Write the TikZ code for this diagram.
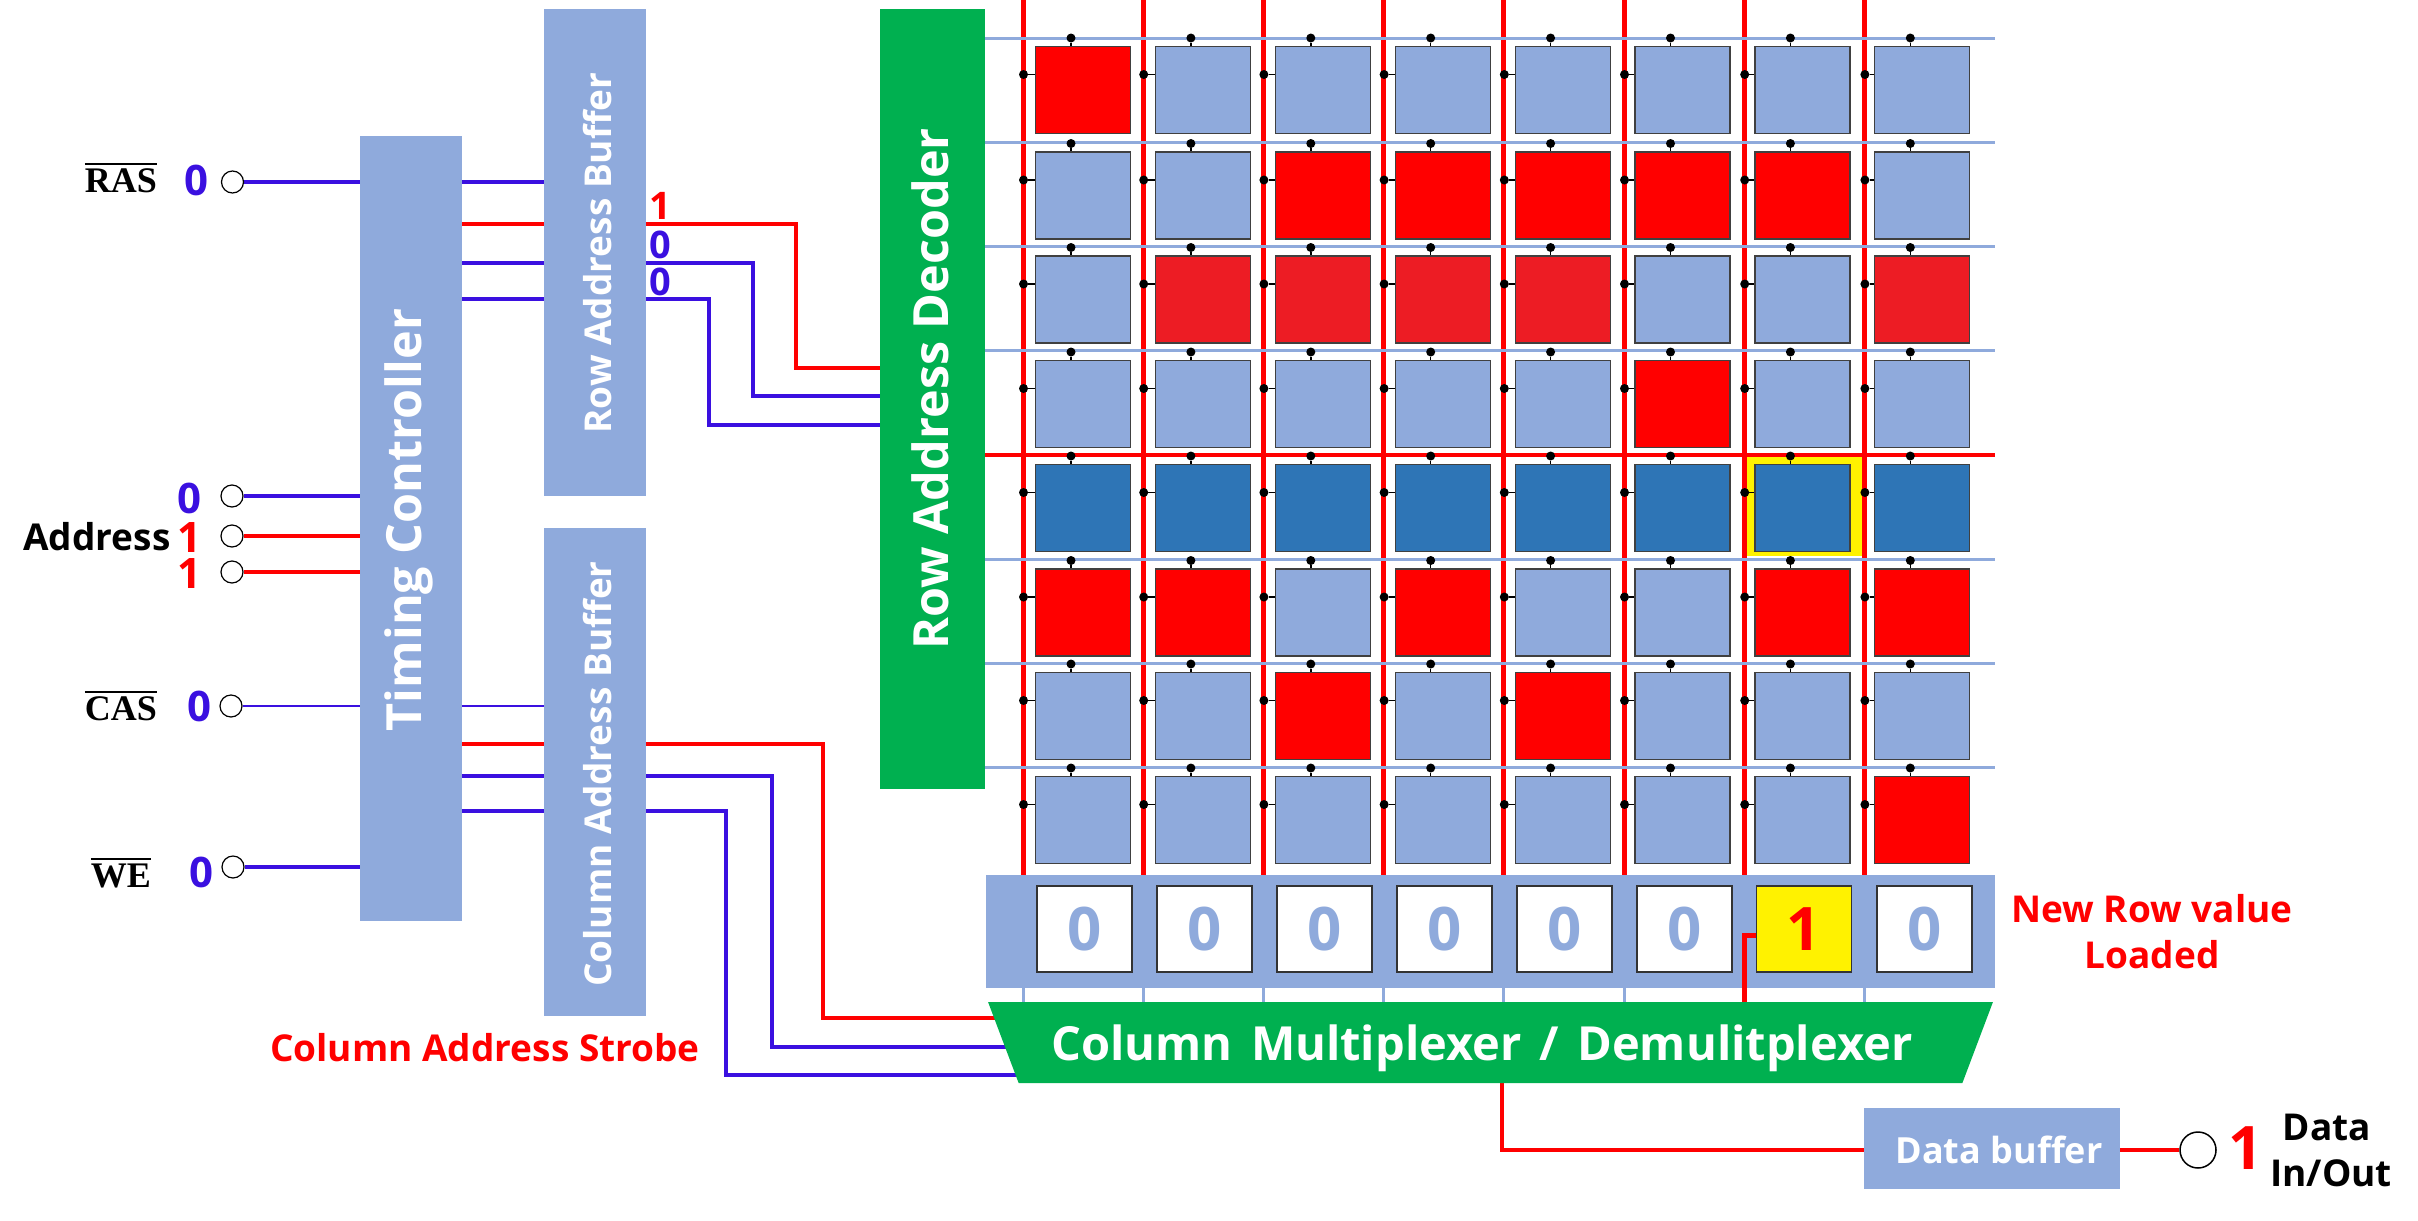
\documentclass[tikz,border=0pt]{standalone}
\usepackage{fontspec}
\setmainfont{Open Sans}
\newfontfamily\capfont{Liberation Serif}
\usetikzlibrary{shapes.geometric, positioning, backgrounds}

\definecolor{cellb}{HTML}{8FAADC}
\definecolor{cellr}{HTML}{FF0000}
\definecolor{celle}{HTML}{ED1C24}
\definecolor{cellk}{HTML}{2E75B6}
\definecolor{busgreen}{HTML}{00B050}
\definecolor{wireblue}{HTML}{3A10E0}

\newcommand{\barred}[1]{\vbox{\hrule height 1.8pt \kern 3.5pt \hbox{#1}}}

\begin{document}
\begin{tikzpicture}[
    x=1pt, y=-1pt,
    block/.style={rectangle, fill=cellb, inner sep=0pt},
    decoder/.style={rectangle, fill=busgreen, inner sep=0pt},
    bigtitle/.style={text=white, font=\fontsize{48.5}{52}\selectfont\bfseries},
    smalltitle/.style={text=white, font=\fontsize{37}{40}\selectfont\bfseries},
    cell/.style={rectangle, draw=black!75, line width=1.2pt, minimum width=95pt, minimum height=87pt, inner sep=0pt},
    bitbox/.style={rectangle, draw=black!80, line width=1.2pt, fill=white, minimum width=95pt, minimum height=86pt, inner sep=0pt, font=\fontsize{60}{62}\selectfont\bfseries},
    tap/.style={circle, fill=black, minimum size=9pt, inner sep=0pt},
    pin/.style={circle, draw, line width=1.2pt, fill=white, minimum size=22pt, inner sep=0pt},
    redwire/.style={draw=red, line width=3.5pt},
    bluewire/.style={draw=wireblue, line width=3.5pt},
    sigtext/.style={font=\fontsize{37}{46}\selectfont\bfseries},
    redtext/.style={sigtext, text=red, align=center},
    digit/.style={inner sep=0pt, text height=30pt, text depth=0pt, font=\fontsize{42}{44}\selectfont\bfseries},
    strobe/.style={font=\fontsize{36}{40}\capfont\bfseries, inner sep=0pt}
]
    \useasboundingbox (0,0) rectangle (2418,1221);

    % Blocks on the left
    \node[block, minimum width=102pt, minimum height=785pt] (timing) at (411,528.5) {};
    \node[bigtitle, rotate=90] (timing_text) at (409,520) {Timing Controller};
    \node[block, minimum width=102pt, minimum height=487pt] (rowbuf) at (595,252.5) {};
    \node[smalltitle, rotate=90] (rowbuf_text) at (598,253) {Row Address Buffer};
    \node[block, minimum width=102pt, minimum height=488pt] (colbuf) at (595,772) {};
    \node[smalltitle, rotate=90] (colbuf_text) at (598,774) {Column Address Buffer};
    \node[decoder, minimum width=105pt, minimum height=780pt] (rowdec) at (932.5,399) {};
    \node[bigtitle, rotate=90] (rowdec_text) at (930,389) {Row Address Decoder};

    % Sense row and multiplexer
    \node[block, minimum width=1009pt, minimum height=113pt] (sense) at (1490.5,931.5) {};
    \node[trapezium, shape border rotate=180, trapezium angle=58, fill=busgreen, inner sep=0pt,
          minimum width=1012pt, minimum height=81pt, trapezium stretches=true] (colmux) at (1490.5,1042.5)
          {\hspace*{926pt}\rule[-17pt]{0pt}{48pt}};
    \node[text=white, font=\fontsize{47}{50}\selectfont\bfseries] (colmux_text) at (1482,1048)
          {Column\hspace{6pt} Multiplexer\hspace{6pt} /\hspace{6pt} Demulitplexer};
    \node[block, minimum width=256pt, minimum height=81pt] (databuf) at (1992,1148.5) {};
    \node[text=white, font=\fontsize{36}{40}\selectfont\bfseries] (databuf_text) at (1999,1150) {Data buffer};

    % Cell array
    \foreach \rx/\cy/\rowcells in {
        0/90/{cellr,cellb,cellb,cellb,cellb,cellb,cellb,cellb},
        1/195.5/{cellb,cellb,cellr,cellr,cellr,cellr,cellr,cellb},
        2/299.5/{cellb,celle,celle,celle,celle,cellb,cellb,celle},
        3/404/{cellb,cellb,cellb,cellb,cellb,cellr,cellb,cellb},
        4/508/{cellk,cellk,cellk,cellk,cellk,cellk,cellk,cellk},
        5/612.5/{cellr,cellr,cellb,cellr,cellb,cellb,cellr,cellr},
        6/716/{cellb,cellb,cellr,cellb,cellr,cellb,cellb,cellb},
        7/820/{cellb,cellb,cellb,cellb,cellb,cellb,cellb,cellr}} {
        \foreach \fillc [count=\cx from 0] in \rowcells {
            \node[cell, fill=\fillc] (cell-\rx-\cx) at ({1083+119.9*\cx},\cy) {};
            \node[tap] (wl-\rx-\cx) at ({1071+119.9*\cx},\cy-52) {};
            \node[tap] (bl-\rx-\cx) at ({1023.5+120.2*\cx},\cy-15.5) {};
            \draw[line width=1.5pt] (wl-\rx-\cx) -- (wl-\rx-\cx |- cell-\rx-\cx.north);
            \draw[line width=1.5pt] (bl-\rx-\cx) -- (bl-\rx-\cx -| cell-\rx-\cx.west);
        }
    }

    % Row buffer values
    \foreach \cx/\bitval/\bitcol in {0/0/cellb,1/0/cellb,2/0/cellb,3/0/cellb,4/0/cellb,5/0/cellb,7/0/cellb} {
        \node[bitbox, text=\bitcol] (bit\cx) at ({1084.5+120*\cx},929) {\bitval};
    }
    \node[bitbox, fill=yellow, text=red] (bit6) at (1804,929) {1};

    % Input pins
    \node[pin] (ras_pin) at (232.5,182) {};
    \node[pin] (a0_pin) at (232,496) {};
    \node[pin] (a1_pin) at (232,536) {};
    \node[pin] (a2_pin) at (232,572) {};
    \node[pin] (cas_pin) at (231,706) {};
    \node[pin] (we_pin) at (233,867) {};
    \node[circle, draw, line width=1.5pt, fill=white, minimum size=36pt, inner sep=0pt] (data_pin) at (2198,1150) {};

    % Pin labels
    \node[strobe] (ras_label) at (121,178) {\barred{RAS}};
    \node[strobe] (cas_label) at (121,706) {\barred{CAS}};
    \node[strobe] (we_label) at (121,873) {\barred{WE}};
    \node[digit, text=wireblue] (ras_bit) at (196,180) {0};
    \node[digit, text=wireblue] (a0_bit) at (189,498) {0};
    \node[digit, text=red] (a1_bit) at (189,537) {1};
    \node[digit, text=red] (a2_bit) at (189,573) {1};
    \node[digit, text=wireblue] (cas_bit) at (199,706) {0};
    \node[digit, text=wireblue] (we_bit) at (201,872) {0};
    \node[sigtext, inner sep=0pt] (address_label) at (97,537) {Address};

    % Row buffer output values
    \node[digit, text=red, font=\fontsize{38}{40}\selectfont\bfseries] (row1_bit) at (660,204) {1};
    \node[digit, text=wireblue, font=\fontsize{38}{40}\selectfont\bfseries] (row2_bit) at (660,243) {0};
    \node[digit, text=wireblue, font=\fontsize{38}{40}\selectfont\bfseries] (row3_bit) at (660,280) {0};

    % Other texts
    \node[redtext] (strobe_text) at (485,1048) {Column Address Strobe};
    \node[redtext] (loaded_text) at (2152,932) {New Row value\\Loaded};
    \node[digit, text=red, text height=43pt, font=\fontsize{60}{62}\selectfont\bfseries] (data_bit) at (2246,1148) {1};
    \node[sigtext, align=center] (data_text) at (2327,1150) {Data\\\hspace*{8pt}In/Out};

    % Named points for the wires
    \coordinate (rowa) at (700,224);
    \coordinate (rowb) at (700,263);
    \coordinate (rowc) at (700,299);
    \coordinate (rowa_end) at (796,368);
    \coordinate (rowb_end) at (753,396);
    \coordinate (rowc_end) at (709,425);
    \coordinate (cola) at (700,744);
    \coordinate (colb) at (700,776);
    \coordinate (colc) at (700,811);
    \coordinate (cola_end) at (823,1018);
    \coordinate (colb_end) at (772,1047);
    \coordinate (colc_end) at (726,1075);
    \coordinate (mux_out) at (1502,1150);
    \coordinate (load_turn) at (1745,935);

    \begin{pgfonlayer}{background}
        % Selected cell
        \node[fill=yellow, minimum width=115pt, minimum height=100pt, inner sep=0pt] (selected) at (1804.5,506) {};

        % Bit lines
        \foreach \cx in {0,...,7} {
            \coordinate (col\cx) at ({1023+120.2*\cx},0);
            \draw[red, line width=5pt] (col\cx) -- (col\cx |- sense.north);
        }

        % Word lines
        \foreach \rx in {0,1,2,3,5,6,7} {
            \coordinate (row\rx) at (1500,{38+104.2*\rx});
            \draw[cellb, line width=3pt] (rowdec.east |- row\rx) -- (sense.east |- row\rx);
        }
        \coordinate (row4) at (1500,455);
        \draw[red, line width=3.5pt] (rowdec.east |- row4) -- (sense.east |- row4);

        % Links from sense row to multiplexer
        \foreach \cx in {0,1,2,3,4,5,7} {
            \draw[cellb, line width=3pt] (col\cx |- sense.south) -- (col\cx |- colmux.north);
        }

        % Left wires
        \draw[bluewire] (ras_pin) -- (timing.west |- ras_pin);
        \draw[bluewire] (a0_pin) -- (timing.west |- a0_pin);
        \draw[redwire] (a1_pin) -- (timing.west |- a1_pin);
        \draw[redwire] (a2_pin) -- (timing.west |- a2_pin);
        \draw[bluewire, line width=2.8pt] (cas_pin) -- (timing.west |- cas_pin);
        \draw[bluewire] (we_pin) -- (timing.west |- we_pin);

        % Timing to buffers
        \draw[bluewire] (timing.east |- ras_pin) -- (rowbuf.west |- ras_pin);
        \draw[redwire] (timing.east |- rowa) -- (rowbuf.west |- rowa);
        \draw[bluewire] (timing.east |- rowb) -- (rowbuf.west |- rowb);
        \draw[bluewire] (timing.east |- rowc) -- (rowbuf.west |- rowc);
        \draw[bluewire, line width=2.8pt] (timing.east |- cas_pin) -- (colbuf.west |- cas_pin);
        \draw[redwire] (timing.east |- cola) -- (colbuf.west |- cola);
        \draw[bluewire] (timing.east |- colb) -- (colbuf.west |- colb);
        \draw[bluewire] (timing.east |- colc) -- (colbuf.west |- colc);

        % Buffers to decoders
        \draw[redwire] (rowbuf.east |- rowa) -| (rowa_end) -- (rowdec.west |- rowa_end);
        \draw[bluewire] (rowbuf.east |- rowb) -| (rowb_end) -- (rowdec.west |- rowb_end);
        \draw[bluewire] (rowbuf.east |- rowc) -| (rowc_end) -- (rowdec.west |- rowc_end);
        \draw[redwire] (colbuf.east |- cola) -| (cola_end) -- (colmux.center |- cola_end);
        \draw[bluewire] (colbuf.east |- colb) -| (colb_end) -- (colmux.center |- colb_end);
        \draw[bluewire] (colbuf.east |- colc) -| (colc_end) -- (colmux.center |- colc_end);

        % Data path
        \draw[redwire] (mux_out |- colmux.south) |- (databuf.west |- mux_out);
        \draw[redwire] (databuf.east |- mux_out) -- (data_pin);
    \end{pgfonlayer}

    % Loaded bit
    \draw[red, line width=5pt] (col6 |- colmux.north) |- (bit6.west |- load_turn);
\end{tikzpicture}
\end{document}
